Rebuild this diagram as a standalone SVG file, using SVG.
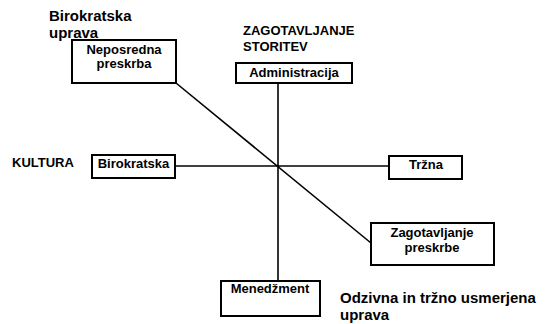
<svg xmlns="http://www.w3.org/2000/svg" width="550" height="324" viewBox="0 0 550 324">
<style>
.box{fill:#fff;stroke:#000;stroke-width:2}
.ln{stroke:#000;stroke-width:1.6;fill:none}
text{font-family:"Liberation Sans",Arial,sans-serif;font-weight:bold;fill:#000}
.n{font-size:13px;text-anchor:middle}
.t{font-size:15px}
.s{font-size:13px}
</style>
<rect width="550" height="324" fill="#fff"/>
<g id="connectors">
<line class="ln" x1="278" y1="83" x2="278" y2="281"/>
<line class="ln" x1="175" y1="166" x2="389" y2="166"/>
<line class="ln" x1="176" y1="83" x2="371" y2="243"/>
</g>
<g id="label-birokratska-uprava">
<text class="t" x="49" y="21">Birokratska</text>
<text class="t" x="49" y="38">uprava</text>
</g>
<g id="label-zagotavljanje-storitev">
<text class="s" x="243" y="35">ZAGOTAVLJANJE</text>
<text class="s" x="243" y="51">STORITEV</text>
</g>
<g id="label-kultura">
<text class="s" x="12" y="167">KULTURA</text>
</g>
<g id="label-odzivna">
<text class="t" x="340" y="303">Odzivna in tržno usmerjena</text>
<text class="t" x="340" y="320">uprava</text>
</g>
<g id="node-neposredna">
<rect class="box" x="72" y="40" width="104" height="43"/>
<text class="n" x="124" y="54">Neposredna</text>
<text class="n" x="124" y="68">preskrba</text>
</g>
<g id="node-administracija">
<rect class="box" x="236" y="63" width="116" height="20"/>
<text class="n" x="294" y="77">Administracija</text>
</g>
<g id="node-birokratska">
<rect class="box" x="92" y="155" width="83" height="23"/>
<text class="n" x="133.5" y="168">Birokratska</text>
</g>
<g id="node-trzna">
<rect class="box" x="389" y="156" width="73" height="23"/>
<text class="n" x="426" y="169">Tržna</text>
</g>
<g id="node-zagotavljanje-preskrbe">
<rect class="box" x="371" y="223" width="123" height="42"/>
<text class="n" x="432" y="237">Zagotavljanje</text>
<text class="n" x="432" y="252">preskrbe</text>
</g>
<g id="node-menedzment">
<rect class="box" x="221" y="281" width="99" height="35"/>
<text class="n" x="270" y="293">Menedžment</text>
</g>
</svg>
